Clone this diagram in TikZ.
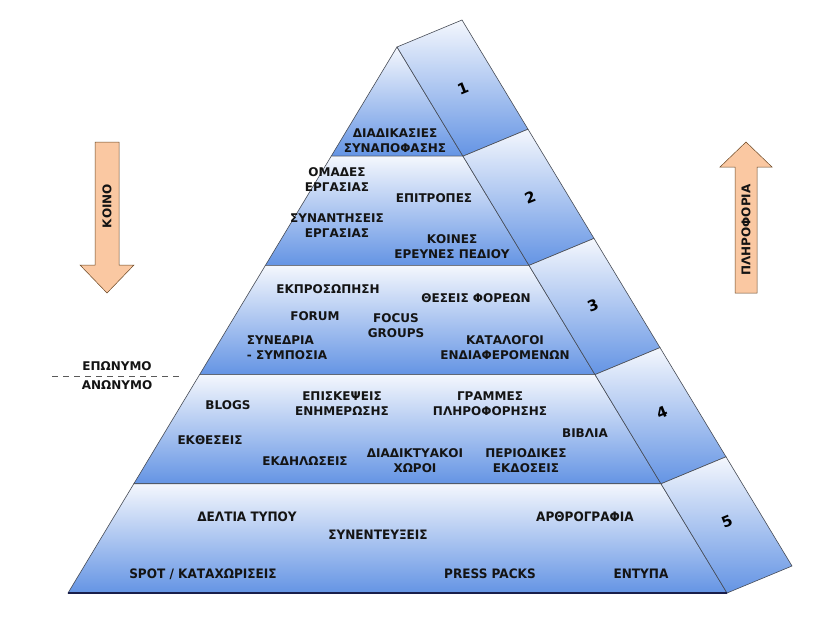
\documentclass[tikz,border=0pt]{standalone}
\usepackage{fontspec}
\setmainfont{DejaVu Sans}
\newfontfamily\narrowfont[FakeStretch=0.93]{DejaVu Sans}
\usetikzlibrary{calc}

\definecolor{pyrblue}{RGB}{100,148,228}
\definecolor{pyrlight}{RGB}{244,247,253}
\definecolor{peach}{RGB}{250,200,162}
\definecolor{edgegray}{RGB}{70,75,85}
\definecolor{basenavy}{RGB}{25,30,75}

\tikzset{
  band/.style={top color=pyrlight, bottom color=pyrblue, draw=edgegray, line width=0.6pt},
  lbl/.style={font=\bfseries\fontsize{12}{15}\selectfont, align=center, inner sep=0pt, text=black!92},
  nlbl/.style={lbl, font=\narrowfont\bfseries\fontsize{13}{15}\selectfont},
  num/.style={font=\bfseries\fontsize{15}{15}\selectfont, rotate=22},
  flow/.style={fill=peach, draw=black!45!brown, line width=0.5pt},
}

\begin{document}
\begin{tikzpicture}[x=1pt, y=-1pt]
        \useasboundingbox (0,0) rectangle (836,629);

        % Pyramid corners
        \coordinate (T) at (397,47);
        \coordinate (L) at (68,593);
        \coordinate (R) at (727,593);

        % Layers, front and side
        \foreach \i [evaluate=\i as \j using \i+1] in {0,...,4} {
          \draw[band] ($(T)!\i/5!(L)$) -- ($(T)!\j/5!(L)$) -- ($(T)!\j/5!(R)$) -- ($(T)!\i/5!(R)$) -- cycle;
          \draw[band] ($(T)!\i/5!(R)$) -- ($(T)!\j/5!(R)$) -- ($(T)!\j/5!(R)+(65,-27)$) -- ($(T)!\i/5!(R)+(65,-27)$) -- cycle;
        }

        % Base
        \draw[basenavy, line width=1.5pt] (L) -- (R);

        % Layer numbers
        \node[num] (n1) at (463,88) {1};
        \node[num] (n2) at (530,197) {2};
        \node[num] (n3) at (593,305) {3};
        \node[num] (n4) at (662,412) {4};
        \node[num] (n5) at (727,522) {5};

        % Layer 1
        \node[lbl] (synap) at (395,141) {ΔΙΑΔΙΚΑΣΙΕΣ\\ΣΥΝΑΠΟΦΑΣΗΣ};

        % Layer 2
        \node[lbl] (omades) at (337,180) {ΟΜΑΔΕΣ\\ΕΡΓΑΣΙΑΣ};
        \node[lbl] (epitr) at (434,198) {ΕΠΙΤΡΟΠΕΣ};
        \node[lbl] (synant) at (337,226) {ΣΥΝΑΝΤΗΣΕΙΣ\\ΕΡΓΑΣΙΑΣ};
        \node[lbl] (koines) at (452,247) {ΚΟΙΝΕΣ\\ΕΡΕΥΝΕΣ ΠΕΔΙΟΥ};

        % Layer 3
        \node[lbl] (ekpros) at (328,289) {ΕΚΠΡΟΣΩΠΗΣΗ};
        \node[lbl] (theseis) at (476,298) {ΘΕΣΕΙΣ ΦΟΡΕΩΝ};
        \node[lbl] (forum) at (315,316) {FORUM};
        \node[lbl] (focus) at (396,326) {FOCUS\\GROUPS};
        \node[lbl, align=left] (synedr) at (287,348) {ΣΥΝΕΔΡΙΑ\\- ΣΥΜΠΟΣΙΑ};
        \node[lbl] (katal) at (505,348) {ΚΑΤΑΛΟΓΟΙ\\ΕΝΔΙΑΦΕΡΟΜΕΝΩΝ};

        % Layer 4
        \node[lbl] (blogs) at (228,405) {BLOGS};
        \node[lbl] (episk) at (342,404) {ΕΠΙΣΚΕΨΕΙΣ\\ΕΝΗΜΕΡΩΣΗΣ};
        \node[lbl] (gramm) at (490,404) {ΓΡΑΜΜΕΣ\\ΠΛΗΡΟΦΟΡΗΣΗΣ};
        \node[lbl] (vivlia) at (585,433) {ΒΙΒΛΙΑ};
        \node[lbl] (ektheseis) at (210,440) {ΕΚΘΕΣΕΙΣ};
        \node[lbl] (ekdil) at (305,461) {ΕΚΔΗΛΩΣΕΙΣ};
        \node[lbl] (diadikt) at (415,461) {ΔΙΑΔΙΚΤΥΑΚΟΙ\\ΧΩΡΟΙ};
        \node[lbl] (period) at (526,461) {ΠΕΡΙΟΔΙΚΕΣ\\ΕΚΔΟΣΕΙΣ};

        % Layer 5
        \node[nlbl] (deltia) at (247,517) {ΔΕΛΤΙΑ ΤΥΠΟΥ};
        \node[nlbl] (arthro) at (585,517) {ΑΡΘΡΟΓΡΑΦΙΑ};
        \node[nlbl] (synent) at (378,535) {ΣΥΝΕΝΤΕΥΞΕΙΣ};
        \node[nlbl] (spot) at (203,574) {SPOT / ΚΑΤΑΧΩΡΙΣΕΙΣ};
        \node[nlbl] (press) at (490,574) {PRESS PACKS};
        \node[nlbl] (entypa) at (641,574) {ΕΝΤΥΠΑ};

        % Down arrow (left)
        \draw[flow] (95,142) -- (119,142) -- (119,265) -- (134,265) -- (107,293)
          -- (80,265) -- (95,265) -- cycle;
        \node[lbl, rotate=90] (koino) at (107,206) {ΚΟΙΝΟ};

        % Up arrow (right)
        \draw[flow] (735,293) -- (757,293) -- (757,167) -- (772,167) -- (746,142)
          -- (720,167) -- (735,167) -- cycle;
        \node[lbl, rotate=90] (plir) at (746,230) {ΠΛΗΡΟΦΟΡΙΑ};

        % Named / anonymous divide
        \draw[black!65, line width=0.8pt, dash pattern=on 6pt off 5pt] (52,376) -- (183,376);
        \node[lbl] (eponymo) at (117,366) {ΕΠΩΝΥΜΟ};
        \node[lbl] (anonymo) at (117,385) {ΑΝΩΝΥΜΟ};

      \end{tikzpicture}
\end{document}
